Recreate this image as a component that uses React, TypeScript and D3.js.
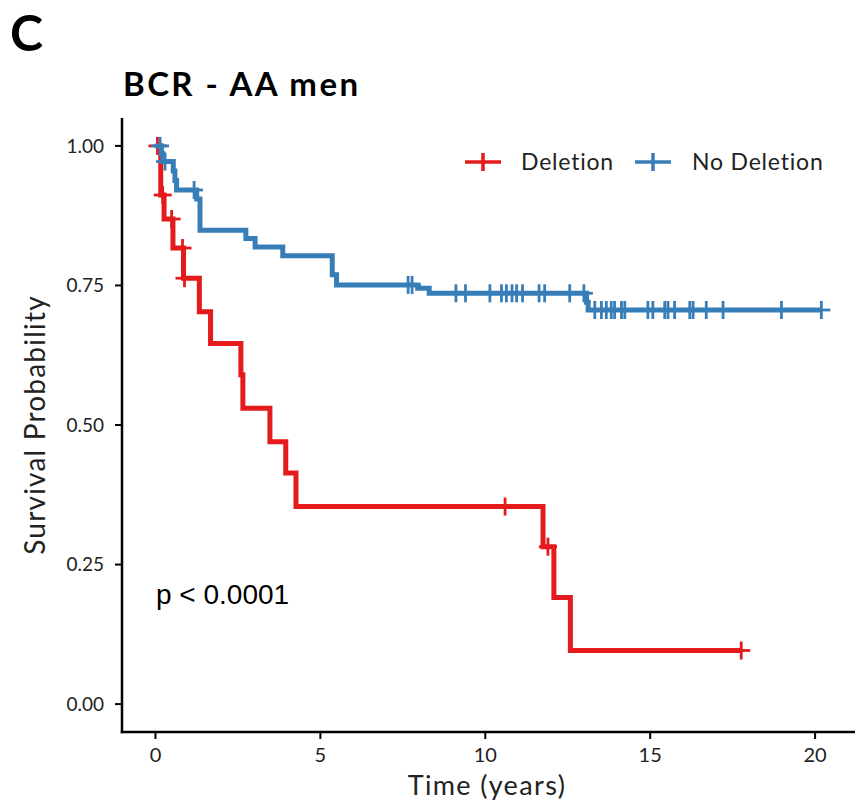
import React from "react";
import * as d3 from "d3";

// Kaplan–Meier estimates: event times (years) and survival after each event
const delEventTimes = [0.16, 0.26, 0.53, 0.85, 1.33, 1.67, 2.59, 2.65, 3.47, 3.95, 4.26, 11.75, 12.08, 12.58];
const delSurv = [0.912, 0.869, 0.817, 0.763, 0.703, 0.646, 0.59, 0.53, 0.47, 0.414, 0.354, 0.282, 0.191, 0.096];
const delCensor = [0.06, 0.22, 0.49, 0.82, 0.88, 10.6, 11.9, 17.76];

const noDelEventTimes = [0.18, 0.22, 0.54, 0.59, 0.64, 1.25, 1.35, 2.74, 3.02, 3.86, 5.36, 5.49, 7.95, 8.3, 13.07, 13.12];
const noDelSurv = [0.986, 0.972, 0.955, 0.938, 0.921, 0.905, 0.849, 0.834, 0.819, 0.803, 0.769, 0.751, 0.745, 0.736, 0.72, 0.706];
const noDelCensor = [
  0.14, 0.29, 1.17, 7.66, 7.78, 9.11, 9.4, 10.14, 10.49, 10.64, 10.81, 10.95, 11.13, 11.63, 11.8,
  12.56, 12.99, 13.32, 13.52, 13.67, 13.82, 13.92, 14.13, 14.23, 14.93, 15.08, 15.44, 15.54, 15.74,
  16.2, 16.3, 16.7, 17.21, 18.98, 20.19,
];

const groupNames = ["Deletion", "No Deletion"];
const groupColors = ["#E41A1C", "#377EB8"];

const xTicks = [0, 5, 10, 15, 20];
const yTicks = [0, 0.25, 0.5, 0.75, 1];

const W = 863;
const H = 805;
const FONT = "Lato, 'Open Sans', sans-serif";

type Pt = [number, number];

function survAt(times: number[], surv: number[], t: number) {
  let s = 1;
  for (let i = 0; i < times.length; i++) if (times[i] <= t) s = surv[i];
  return s;
}

function buildSeries(times: number[], surv: number[], censor: number[]) {
  const end = Math.max(d3.max(censor) ?? 0, d3.max(times) ?? 0);
  const pts: Pt[] = [[0, 1]];
  times.forEach((t, i) => pts.push([t, surv[i]]));
  pts.push([end, survAt(times, surv, end)]);
  const marks: Pt[] = censor.map((t) => [t, survAt(times, surv, t)]);
  return { pts, marks };
}

export default function App() {
  const x = d3.scaleLinear().domain([-1.015, 21.21]).range([122, 855]);
  const y = d3.scaleLinear().domain([-0.05, 1.05]).range([732, 118]);

  const series = [
    buildSeries(delEventTimes, delSurv, delCensor),
    buildSeries(noDelEventTimes, noDelSurv, noDelCensor),
  ];

  const line = d3
    .line<Pt>()
    .x((d) => x(d[0]))
    .y((d) => y(d[1]))
    .curve(d3.curveStepAfter);

  const crossHalf = 9;
  const fmt = d3.format(".2f");

  return (
    <svg
      width={W}
      height={H}
      style={{ position: "absolute", left: 0, top: 0, display: "block", background: "#fff" }}
    >
      <rect width={W} height={H} fill="#fff" />
      {/* panel letter and title */}
      <text x={10} y={51} fontFamily={FONT} fontWeight={700} fontSize={50} fill="#000">
        C
      </text>
      <text
        x={123}
        y={96}
        fontFamily={FONT}
        fontWeight={700}
        fontSize={33}
        letterSpacing={2.4}
        fill="#000"
      >
        BCR - AA men
      </text>

      {/* survival curves */}
      {series.map((s, i) => (
        <g key={groupNames[i]}>
          <path
            d={line(s.pts) ?? ""}
            fill="none"
            stroke={groupColors[i]}
            strokeWidth={5}
            strokeLinejoin="miter"
          />
          {s.marks.map((m, j) => (
            <g key={j} stroke={groupColors[i]} strokeWidth={2.8}>
              <line x1={x(m[0]) - crossHalf} x2={x(m[0]) + crossHalf} y1={y(m[1])} y2={y(m[1])} />
              <line x1={x(m[0])} x2={x(m[0])} y1={y(m[1]) - crossHalf} y2={y(m[1]) + crossHalf} />
            </g>
          ))}
        </g>
      ))}

      {/* axes */}
      <g stroke="#000" strokeWidth={2.5} fill="none">
        <line x1={122} x2={122} y1={y(1.05)} y2={y(-0.05) + 1.25} />
        <line x1={122 - 1.25} x2={855} y1={y(-0.05)} y2={y(-0.05)} />
      </g>
      {yTicks.map((t) => (
        <g key={t}>
          <line x1={115} x2={122} y1={y(t)} y2={y(t)} stroke="#000" strokeWidth={2} />
          <text
            x={104}
            y={y(t)}
            dy="0.35em"
            textAnchor="end"
            fontFamily={FONT}
            fontSize={19}
            fill="#222"
          >
            {fmt(t)}
          </text>
        </g>
      ))}
      {xTicks.map((t) => (
        <g key={t}>
          <line x1={x(t)} x2={x(t)} y1={732} y2={739} stroke="#000" strokeWidth={2} />
          <text x={x(t)} y={762} textAnchor="middle" fontFamily={FONT} fontSize={20} fill="#222">
            {t}
          </text>
        </g>
      ))}
      <text
        x={487}
        y={795}
        textAnchor="middle"
        fontFamily={FONT}
        fontSize={27}
        letterSpacing={1.4}
        fill="#222"
      >
        Time (years)
      </text>
      <text
        transform={`translate(45, ${y(0.5)}) rotate(-90)`}
        textAnchor="middle"
        fontFamily={FONT}
        fontSize={28}
        letterSpacing={1.2}
        fill="#222"
      >
        Survival Probability
      </text>

      {/* legend */}
      {groupNames.map((name, i) => {
        const kx = [465, 635][i];
        const tx = [521, 692][i];
        return (
          <g key={name}>
            <g stroke={groupColors[i]} strokeWidth={3.5}>
              <line x1={kx} x2={kx + 36} y1={162} y2={162} />
              <line x1={kx + 18} x2={kx + 18} y1={153} y2={171} />
            </g>
            <text x={tx} y={170} fontFamily={FONT} fontSize={23} letterSpacing={0.8} fill="#222">
              {name}
            </text>
          </g>
        );
      })}

      {/* log-rank p-value */}
      <text x={156} y={604} fontFamily="'Liberation Sans', Arial, sans-serif" fontSize={28} fill="#000">
        p &lt; 0.0001
      </text>
    </svg>
  );
}
